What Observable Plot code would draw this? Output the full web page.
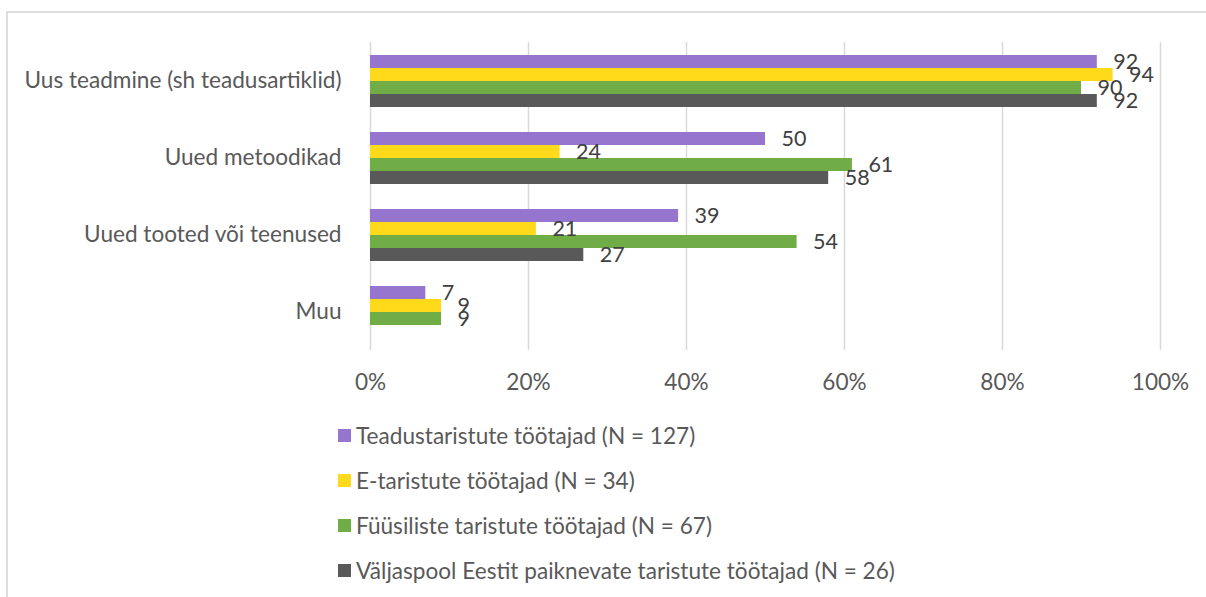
<!DOCTYPE html>
<html>
<head>
<meta charset="utf-8">
<script src="https://cdn.jsdelivr.net/npm/d3@7"></script>
<script src="https://cdn.jsdelivr.net/npm/@observablehq/plot@0.6"></script>
<style>
  html, body { margin: 0; padding: 0; background: #fff; overflow: hidden; }
  body { width: 1206px; height: 597px; position: relative; font-family: "Lato", sans-serif; }
  #frame { position: absolute; left: 6px; top: 11px; width: 1300px; height: 700px; border: 2px solid #dedede; box-sizing: border-box; }
  #chart { position: absolute; left: 0; top: 0; }
  #legend { position: absolute; left: 338px; top: 413px; }
  .item { height: 45px; display: flex; align-items: center; font-size: 22.6px; color: #595959; white-space: nowrap; }
  .sw { width: 13px; height: 13px; margin-right: 5px; flex: none; }
</style>
</head>
<body>
<div id="frame"></div>
<div id="chart"></div>
<div id="legend"></div>
<script>
const categories = ["Uus teadmine (sh teadusartiklid)", "Uued metoodikad", "Uued tooted või teenused", "Muu"];
const seriesNames = [
  "Teadustaristute töötajad (N = 127)",
  "E-taristute töötajad (N = 34)",
  "Füüsiliste taristute töötajad (N = 67)",
  "Väljaspool Eestit paiknevate taristute töötajad (N = 26)"
];
const seriesColors = ["#9575CD", "#FFDA1A", "#70AD47", "#595959"];
const teadustaristud = [92, 50, 39, 7];
const eTaristud = [94, 24, 21, 9];
const fuusilised = [90, 61, 54, 9];
const valjaspool = [92, 58, 27, null];
const xTicks = [0, 20, 40, 60, 80, 100];

const seriesValues = [teadustaristud, eTaristud, fuusilised, valjaspool];
const rows = [];
seriesValues.forEach((vals, si) => {
  vals.forEach((v, ci) => {
    if (v != null) rows.push({category: categories[ci], series: seriesNames[si], value: v});
  });
});

const chart = Plot.plot({
  width: 1206,
  height: 400,
  marginTop: 41,
  marginBottom: 50,
  marginLeft: 370,
  marginRight: 46,
  style: {fontFamily: "Lato", fontSize: "22.6px", color: "#595959", background: "transparent", overflow: "visible"},
  x: {domain: [0, 100], ticks: xTicks, tickFormat: d => d + "%", tickSize: 0, tickPadding: 23, label: null, axis: "bottom"},
  fy: {domain: categories, padding: 0, label: null, tickSize: 0, tickPadding: 29, axis: "left"},
  y: {domain: seriesNames, paddingInner: 0, paddingOuter: 0.9, axis: null},
  color: {domain: seriesNames, range: seriesColors},
  marks: [
    Plot.gridX(xTicks, {stroke: "#d9d9d9", strokeOpacity: 1, strokeWidth: 1.5}),
    Plot.barX(rows, {x: "value", y: "series", fy: "category", fill: "series"}),
    Plot.text(rows, {x: "value", y: "series", fy: "category", text: d => String(d.value), dx: 16, textAnchor: "start", fill: "#404040", fontSize: 21.5})
  ]
});
document.getElementById("chart").appendChild(chart);

const legend = document.getElementById("legend");
seriesNames.forEach((name, i) => {
  const item = document.createElement("div");
  item.className = "item";
  const sw = document.createElement("span");
  sw.className = "sw";
  sw.style.background = seriesColors[i];
  item.appendChild(sw);
  item.appendChild(document.createTextNode(name));
  legend.appendChild(item);
});
</script>
</body>
</html>
